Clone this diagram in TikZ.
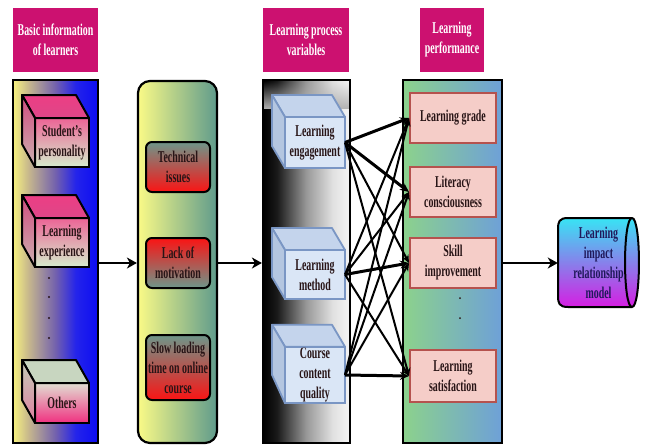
\documentclass[tikz,border=0pt]{standalone}
\usepackage{fontspec}
\setmainfont{Liberation Serif}[FakeStretch=0.6]
\usetikzlibrary{arrows.meta,fadings,calc}
\definecolor{hdr}{RGB}{204,17,112}
\definecolor{txtc}{RGB}{40,20,22}
\definecolor{pinkA}{RGB}{236,100,150}
\definecolor{pinkB}{RGB}{214,236,204}
\definecolor{topA}{RGB}{236,62,132}
\definecolor{topB}{RGB}{222,70,136}
\definecolor{sideA}{RGB}{208,78,128}
\definecolor{sideB}{RGB}{204,176,176}
\definecolor{othA}{RGB}{226,222,210}
\definecolor{othB}{RGB}{240,48,128}
\definecolor{othT}{RGB}{200,214,192}
\definecolor{othSA}{RGB}{196,204,184}
\definecolor{othSB}{RGB}{222,128,160}
\definecolor{yelc}{RGB}{250,250,135}
\definecolor{tealc}{RGB}{95,155,140}
\definecolor{tealg}{RGB}{110,150,138}
\definecolor{redc}{RGB}{250,20,20}
\definecolor{blueF}{RGB}{218,230,246}
\definecolor{blueT}{RGB}{196,212,236}
\definecolor{blueS}{RGB}{180,198,224}
\definecolor{bluecb}{RGB}{122,150,196}
\definecolor{grnc}{RGB}{140,210,140}
\definecolor{bluc}{RGB}{110,160,216}
\definecolor{perff}{RGB}{245,205,200}
\definecolor{perfd}{RGB}{181,82,78}
\definecolor{cyanc}{RGB}{56,228,244}
\definecolor{midc}{RGB}{112,140,232}
\definecolor{magc}{RGB}{214,30,226}
\definecolor{cytc}{RGB}{32,24,90}
\pgfdeclarehorizontalshading{pone}{100bp}{rgb(0bp)=(0.97,0.95,0.5); rgb(25bp)=(0.97,0.95,0.5); rgb(34bp)=(0.78,0.72,0.55); rgb(50bp)=(0.45,0.38,0.68); rgb(62bp)=(0.14,0.14,0.92); rgb(75bp)=(0.05,0.05,0.95); rgb(100bp)=(0.05,0.05,0.95)}
\pgfdeclarehorizontalshading{pthree}{100bp}{rgb(0bp)=(0,0,0); rgb(25bp)=(0,0,0); rgb(33bp)=(0.1,0.1,0.1); rgb(50bp)=(0.6,0.6,0.6); rgb(65bp)=(0.88,0.88,0.88); rgb(75bp)=(0.96,0.96,0.96); rgb(100bp)=(0.96,0.96,0.96)}
\begin{document}
\begin{tikzpicture}[x=1pt,y=-1pt,
  txt/.style={font=\bfseries\fontsize{16.5}{20}\selectfont, align=center, inner sep=1pt, text=txtc},
  hdrbox/.style={txt, fill=hdr, text=white, minimum height=64},
  panel/.style={draw=black, line width=2.2, minimum height=363},
  pfront/.style={txt, draw=black, line width=2, outer sep=0, minimum width=54, top color=pinkA, bottom color=pinkB},
  pface/.style={draw=black, line width=2, line join=round},
  bfront/.style={txt, draw=bluecb, line width=1.8, outer sep=0, fill=blueF, minimum width=60},
  bface/.style={draw=bluecb, line width=1.8, line join=round},
  redbox/.style={txt, draw=black, line width=2, rounded corners=6, minimum width=64, inner sep=0.3pt},
  perf/.style={txt, draw=perfd, fill=perff, line width=2, minimum width=86, minimum height=50},
  arr/.style={line width=2.5, -{Stealth[length=10pt,width=11pt,inset=3pt]}},
  link/.style={line width=2, -{Stealth[length=8pt,width=7pt]}},
  biglink/.style={line width=3, -{Stealth[length=9pt,width=8pt]}}
]
\useasboundingbox (0,0) rectangle (649,445);
% headers
\node[hdrbox, minimum width=85] (h1) at (55.5,40) {Basic information\\of learners};
\node[hdrbox, minimum width=86] (h3) at (306,40) {Learning process\\variables};
\node[hdrbox, minimum width=64] (h4) at (452,40) {Learning\\performance};
% panels
\node[panel, shade, shading=pone, minimum width=85] (p1) at (55.5,261.5) {};
\node[panel, rounded corners=12, left color=yelc, right color=tealc, minimum width=79, minimum height=362] (p2) at (177.5,262) {};
\node[panel, shade, shading=pthree, minimum width=87] (p3) at (306.5,261.5) {};
\fill[black!30, path fading=north] ($(p3.north west)+(2.2,2.2)$) rectangle ($(p3.north east)+(-2.2,30)$);
\node[panel, left color=grnc, right color=bluc, minimum width=99] (p4) at (452.5,261.5) {};
% column 1 cubes
\node[pfront, minimum height=49] (sp) at (62,142.5) {Student's\\personality};
\node[pfront, minimum height=49] (le) at (62,242.5) {Learning\\experience};
\node[pfront, minimum height=40, top color=othA, bottom color=othB] (ot) at (62,403) {Others};
\shade[pface, top color=topA, bottom color=topB] (sp.north west) -- ++(-13,-23) -- ++(54,0) -- (sp.north east) -- cycle;
\shade[pface, top color=sideA, bottom color=sideB] (sp.north west) -- ++(-13,-23) -- ++(0,49) -- (sp.south west) -- cycle;
\shade[pface, top color=topA, bottom color=topB] (le.north west) -- ++(-13,-23) -- ++(54,0) -- (le.north east) -- cycle;
\shade[pface, top color=sideA, bottom color=sideB] (le.north west) -- ++(-13,-23) -- ++(0,49) -- (le.south west) -- cycle;
\fill[pface, draw=black, fill=othT] (ot.north west) -- ++(-13,-23) -- ++(54,0) -- (ot.north east) -- cycle;
\shade[pface, top color=othSA, bottom color=othSB] (ot.north west) -- ++(-13,-23) -- ++(0,40) -- (ot.south west) -- cycle;
\foreach \yy in {278,297,318,338} \fill[txtc] (49,\yy) circle (1.1);
% column 2 boxes
\node[redbox, minimum height=50, top color=tealg, bottom color=redc] (ti) at (178,167) {Technical\\issues};
\node[redbox, minimum height=50, top color=redc, bottom color=tealg] (lm) at (178,263) {Lack of\\motivation};
\node[redbox, minimum height=65, top color=tealg, bottom color=redc] (sl) at (178,367.5) {Slow loading\\time on online\\course};
% column 3 cubes
\node[bfront, minimum height=51] (en) at (315,142.5) {Learning\\engagement};
\node[bfront, minimum height=49] (me) at (315,274.5) {Learning\\method};
\node[bfront, minimum height=50] (cq) at (315,375) {Course\\content\\quality};
\filldraw[bface, fill=blueT] (en.north west) -- ++(-13,-22) -- ++(60,0) -- (en.north east) -- cycle;
\filldraw[bface, fill=blueS] (en.north west) -- ++(-13,-22) -- ++(0,51) -- (en.south west) -- cycle;
\filldraw[bface, fill=blueT] (me.north west) -- ++(-13,-22) -- ++(60,0) -- (me.north east) -- cycle;
\filldraw[bface, fill=blueS] (me.north west) -- ++(-13,-22) -- ++(0,49) -- (me.south west) -- cycle;
\filldraw[bface, fill=blueT] (cq.north west) -- ++(-13,-22) -- ++(60,0) -- (cq.north east) -- cycle;
\filldraw[bface, fill=blueS] (cq.north west) -- ++(-13,-22) -- ++(0,50) -- (cq.south west) -- cycle;
% column 4 boxes
\node[perf] (lg) at (453,118) {Learning grade};
\node[perf] (lc) at (453,192) {Literacy\\consciousness};
\node[perf] (si) at (453,263) {Skill\\improvement};
\node[perf, minimum height=52] (ls) at (453,376) {Learning\\satisfaction};
\foreach \yy in {298,318} \fill[txtc] (460,\yy) circle (1);
% cylinder
\shade[draw=black, line width=2, top color=cyanc, middle color=midc, bottom color=magc] (568,218) -- (632,218) .. controls (641.3,218) and (641.3,307) .. (632,307) -- (568,307) .. controls (559,307) and (558,303) .. (558,296) -- (558,229) .. controls (558,222) and (559,218) .. (568,218) -- cycle;
\draw[line width=2] (632,218) .. controls (622.7,218) and (622.7,307) .. (632,307);
\node[txt, text=cytc, inner sep=0, minimum width=81, minimum height=89] (cy) at (598.5,262.5) {Learning\\impact\\relationship\\model};
% main arrows
\draw[arr] (p1.east |- lm) -- (p2.west |- lm);
\draw[arr] (p2.east |- lm) -- (p3.west |- lm);
\draw[arr] (p4.east |- si) -- (cy.west |- si);
% links
\draw[biglink] (en.east) -- (lg.west);
\draw[biglink] (en.east) -- (lc.west);
\draw[link] (en.east) -- (si.west);
\draw[link] (en.east) -- (ls.west);
\draw[link] (me.east) -- (lg.west);
\draw[link] (me.east) -- (lc.west);
\draw[biglink] (me.east) -- (si.west);
\draw[link] (me.east) -- (ls.west);
\draw[link] (cq.east) -- (lg.west);
\draw[link] (cq.east) -- (lc.west);
\draw[link] (cq.east) -- (si.west);
\draw[biglink] (cq.east) -- (ls.west);
\end{tikzpicture}
\end{document}
